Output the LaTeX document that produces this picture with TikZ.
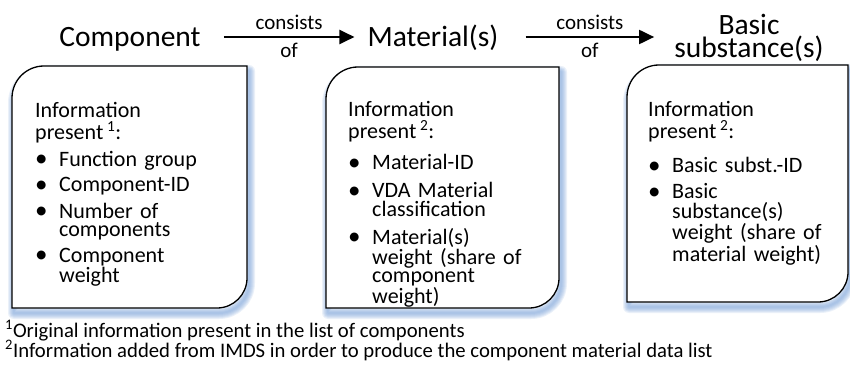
\documentclass[tikz,border=0pt]{standalone}
\usepackage{fontspec}
\setmainfont{Carlito}
\usetikzlibrary{arrows.meta,positioning}
\definecolor{shadowblue}{RGB}{120,160,215}
% list with given top and item spacing
\newenvironment{bulletlist}[2]{\begin{list}{\makebox[10pt][l]{\raisebox{-0.5pt}{\fontsize{25}{18}\selectfont\textbullet}}}{%
  \setlength{\leftmargin}{24pt}\setlength{\labelsep}{14pt}%
  \setlength{\labelwidth}{10pt}\setlength{\itemsep}{#2}%
  \setlength{\parsep}{0pt}\setlength{\topsep}{#1}\setlength{\partopsep}{0pt}}}%
  {\end{list}}
\tikzset{
  title/.style={font=\fontsize{29.5}{21.5}\selectfont, inner sep=0pt, align=center},
  info/.style={font=\fontsize{22}{18.5}\selectfont, inner sep=0pt,
    anchor=north west, text width=210pt, align=left},
  arrowtext/.style={font=\fontsize{21}{21}\selectfont, inner sep=0pt},
  note/.style={font=\fontsize{20.7}{20}\selectfont, inner sep=0pt, anchor=base west},
  conn/.style={line width=2pt, -{Triangle[length=15pt,width=14pt]}}
}
\begin{document}
\begin{tikzpicture}[x=1pt,y=1pt]
  \useasboundingbox (0,0) rectangle (850,370);
  % boxes with a soft shadow
  \foreach \xl/\yt/\xr/\yb in {12/304/247/62, 326/303/559/62, 627/305/848/68}{
    \foreach \w in {2,4,...,12}
      \draw[shadowblue, opacity=0.15, line width=\w pt, line join=round, shift={(2,-5)}]
        (\xl,\yb) -- (\xl,\yt-32) arc(180:90:32) -- (\xr,\yt) -- (\xr,\yb+30) arc(0:-90:30) -- cycle;
    \draw[line width=1.3pt, fill=white]
      (\xl,\yb) -- (\xl,\yt-32) arc(180:90:32) -- (\xr,\yt) -- (\xr,\yb+30) arc(0:-90:30) -- cycle;
  }
  \node[title, anchor=base] (comp) at (130,323) {Component};
  \node[title, anchor=base] (mat) at (433,323) {Material(s)};
  \node[title, anchor=north] (subst) at (749,356) {Basic\\substance(s)};
  \draw[conn, shorten <=23pt, shorten >=13pt] ([yshift=10pt]comp.base east) -- ([yshift=10pt]mat.base west)
    node[pos=0.53, above=6pt, arrowtext] {consists}
    node[pos=0.53, below=5pt, arrowtext] {of};
  \draw[conn, shorten <=27pt, shorten >=20pt] ([yshift=10pt]mat.base east) -- ([yshift=10pt]mat.base east -| subst.west)
    node[pos=0.52, above=6pt, arrowtext] {consists}
    node[pos=0.52, below=5pt, arrowtext] {of};
  \node[info] (compinfo) at (35,268) {Information\\[3.5pt]present\,\textsuperscript{1}:
    \begin{bulletlist}{7pt}{7pt}
      \item Function group
      \item Component-ID
      \item Number of\\components
      \item Component\\weight
    \end{bulletlist}};
  \node[info] (matinfo) at (348,269) {Information\\[3.5pt]present\,\textsuperscript{2}:
    \begin{bulletlist}{11.5pt}{9.5pt}
      \item Material-ID
      \item VDA Material\\classification
      \item Material(s)\\weight (share of\\component\\weight)
    \end{bulletlist}};
  \node[info] (substinfo) at (648,269) {Information\\[3.5pt]present\,\textsuperscript{2}:
    \begin{bulletlist}{14.5pt}{7.5pt}
      \item Basic subst.-ID
      \item Basic\\[1pt]substance(s)\\[1pt]weight (share of\\[1pt]material weight)
    \end{bulletlist}};
  \node[note] (note1) at (5,33) {\textsuperscript{1}Original information present in the list of components};
  \node[note] (note2) at (5,13) {\textsuperscript{2}Information added from IMDS in order to produce the component material data list};
\end{tikzpicture}
\end{document}
